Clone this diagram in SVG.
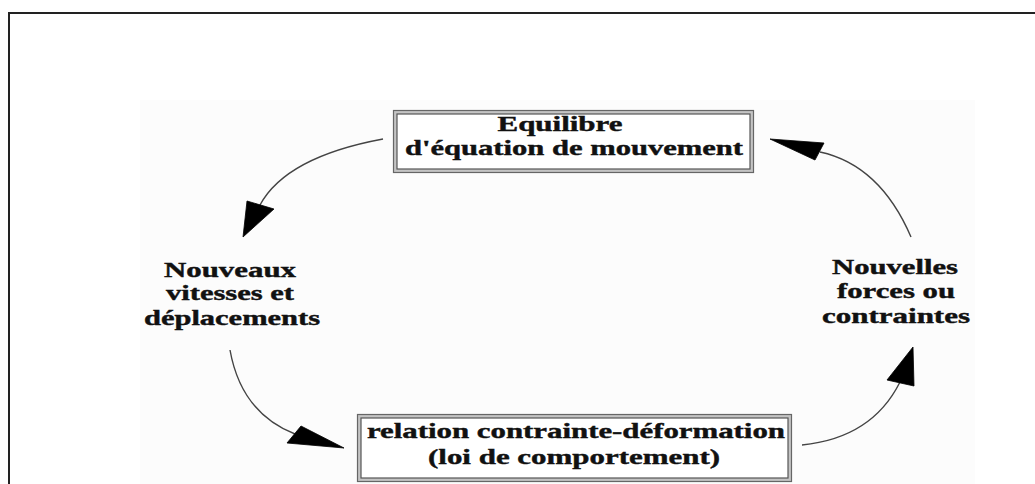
<svg xmlns="http://www.w3.org/2000/svg" width="1035" height="484" viewBox="0 0 1035 484">
<defs>
<style>
.t{font-family:"Liberation Serif","Times New Roman",serif;font-weight:bold;font-size:20px;fill:#111;stroke:#111;stroke-width:0.4;text-anchor:middle}
.outer{fill:#c4c4c4;stroke:#666;stroke-width:1.2}
.inner{fill:#fff;stroke:#555;stroke-width:1.2}
.conn{fill:none;stroke:#444;stroke-width:1.4}
.head{fill:#000;stroke:#000;stroke-width:0.8;stroke-linejoin:round}
</style>
</defs>
<rect x="0" y="0" width="1035" height="484" fill="#fff"/>
<rect x="140" y="100" width="835" height="384" fill="#fcfcfc"/>
<path d="M1035,13 H9 V484" fill="none" stroke="#222" stroke-width="2"/>

<g id="node-equilibre">
<rect class="outer" x="393.5" y="110.5" width="360" height="62"/>
<rect class="inner" x="397" y="114" width="353" height="55"/>
<text class="t" x="560" y="131" textLength="125" lengthAdjust="spacingAndGlyphs">Equilibre</text>
<text class="t" x="574" y="155" textLength="338" lengthAdjust="spacingAndGlyphs">d'équation de mouvement</text>
</g>

<g id="node-relation">
<rect class="outer" x="357.5" y="414.5" width="434" height="67"/>
<rect class="inner" x="361" y="418" width="427" height="60"/>
<text class="t" x="576" y="438" textLength="418" lengthAdjust="spacingAndGlyphs">relation contrainte-déformation</text>
<text class="t" x="574" y="464" textLength="292" lengthAdjust="spacingAndGlyphs">(loi de comportement)</text>
</g>

<g id="node-nouveaux">
<text class="t" x="230" y="277" textLength="132" lengthAdjust="spacingAndGlyphs">Nouveaux</text>
<text class="t" x="230" y="300" textLength="128" lengthAdjust="spacingAndGlyphs">vitesses et</text>
<text class="t" x="232" y="325" textLength="176" lengthAdjust="spacingAndGlyphs">déplacements</text>
</g>

<g id="node-nouvelles">
<text class="t" x="895" y="274" textLength="126" lengthAdjust="spacingAndGlyphs">Nouvelles</text>
<text class="t" x="896" y="298" textLength="118" lengthAdjust="spacingAndGlyphs">forces ou</text>
<text class="t" x="896" y="323" textLength="148" lengthAdjust="spacingAndGlyphs">contraintes</text>
</g>

<g id="connectors">
<path class="conn" d="M383,139 Q286,157 260,205"/>
<polygon class="head" points="247,201 274,209 243,237"/>
<path class="conn" d="M230,350 C238,395 262,421 295,434"/>
<polygon class="head" points="287,443 301,426 344,448"/>
<path class="conn" d="M802,445 Q872,438 900,382"/>
<polygon class="head" points="887,380 914,386 913,347"/>
<path class="conn" d="M911,237 Q880,165 820,152"/>
<polygon class="head" points="824,143 815,160 770,139"/>
</g>
</svg>
